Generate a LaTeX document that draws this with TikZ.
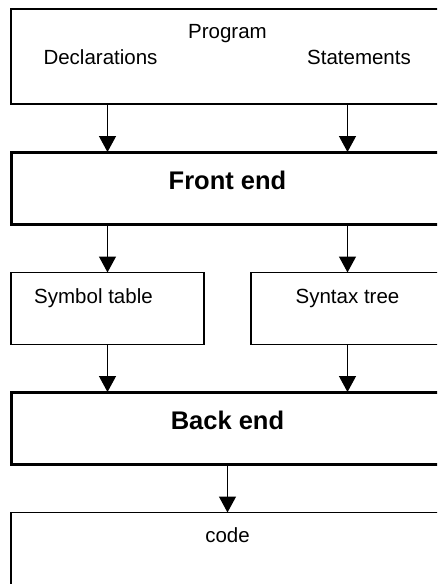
\documentclass[tikz,border=0pt]{standalone}
\usepackage{fontspec}
\setmainfont{Liberation Sans}
\usetikzlibrary{arrows.meta}

\begin{document}
\begin{tikzpicture}[
	x=1pt, y=-1pt,
	box/.style={draw, line width=1.2pt, anchor=north west, inner sep=0pt, outer sep=0pt},
	stage/.style={box, line width=3pt},
	txt/.style={anchor=base, inner sep=0pt, font=\fontsize{20.5}{24}\selectfont},
	bold/.style={txt, font=\fontsize{25.5}{30}\selectfont\bfseries},
	to/.style={-{Triangle[width=17pt,length=16pt]}, line width=1.3pt}
	]
	
	\useasboundingbox (0,0) rectangle (437,584);
	\clip (0,0) rectangle (437,584);
	
	% boxes
	\node[box, minimum width=433pt, minimum height=95pt] (prog) at (11,9) {};
	\node[stage, minimum width=433pt, minimum height=72pt] (front) at (11,152) {};
	\node[box, minimum width=193pt, minimum height=72pt] (symtab) at (11,272.5) {};
	\node[box, minimum width=193pt, minimum height=72pt] (syntax) at (251,272.5) {};
	\node[stage, minimum width=433pt, minimum height=72pt] (back) at (11,392) {};
	\node[box, minimum width=433pt, minimum height=90pt] (code) at (11,512.5) {};
	
	% texts
	\node[txt] (progtxt) at (227.5,38.5) {Program};
	\node[txt] (decl) at (100.5,64) {Declarations};
	\node[txt] (stmt) at (359,64) {Statements};
	\node[bold] (fronttxt) at (227.5,189.3) {Front end};
	\node[txt] (symtxt) at (93.5,303.3) {Symbol table};
	\node[txt] (syntxt) at (347.5,303.3) {Syntax tree};
	\node[bold] (backtxt) at (227.5,429.3) {Back end};
	\node[txt] (codetxt) at (227.5,542.7) {code};
	
	\draw[to] (prog.south -| symtab) -- (front.north -| symtab);
	\draw[to] (prog.south -| syntax) -- (front.north -| syntax);
	\draw[to] (front.south -| symtab) -- (symtab.north);
	\draw[to] (front.south -| syntax) -- (syntax.north);
	\draw[to] (symtab.south) -- (back.north -| symtab);
	\draw[to] (syntax.south) -- (back.north -| syntax);
	\draw[to] (back.south) -- (code.north);
\end{tikzpicture}
\end{document}
